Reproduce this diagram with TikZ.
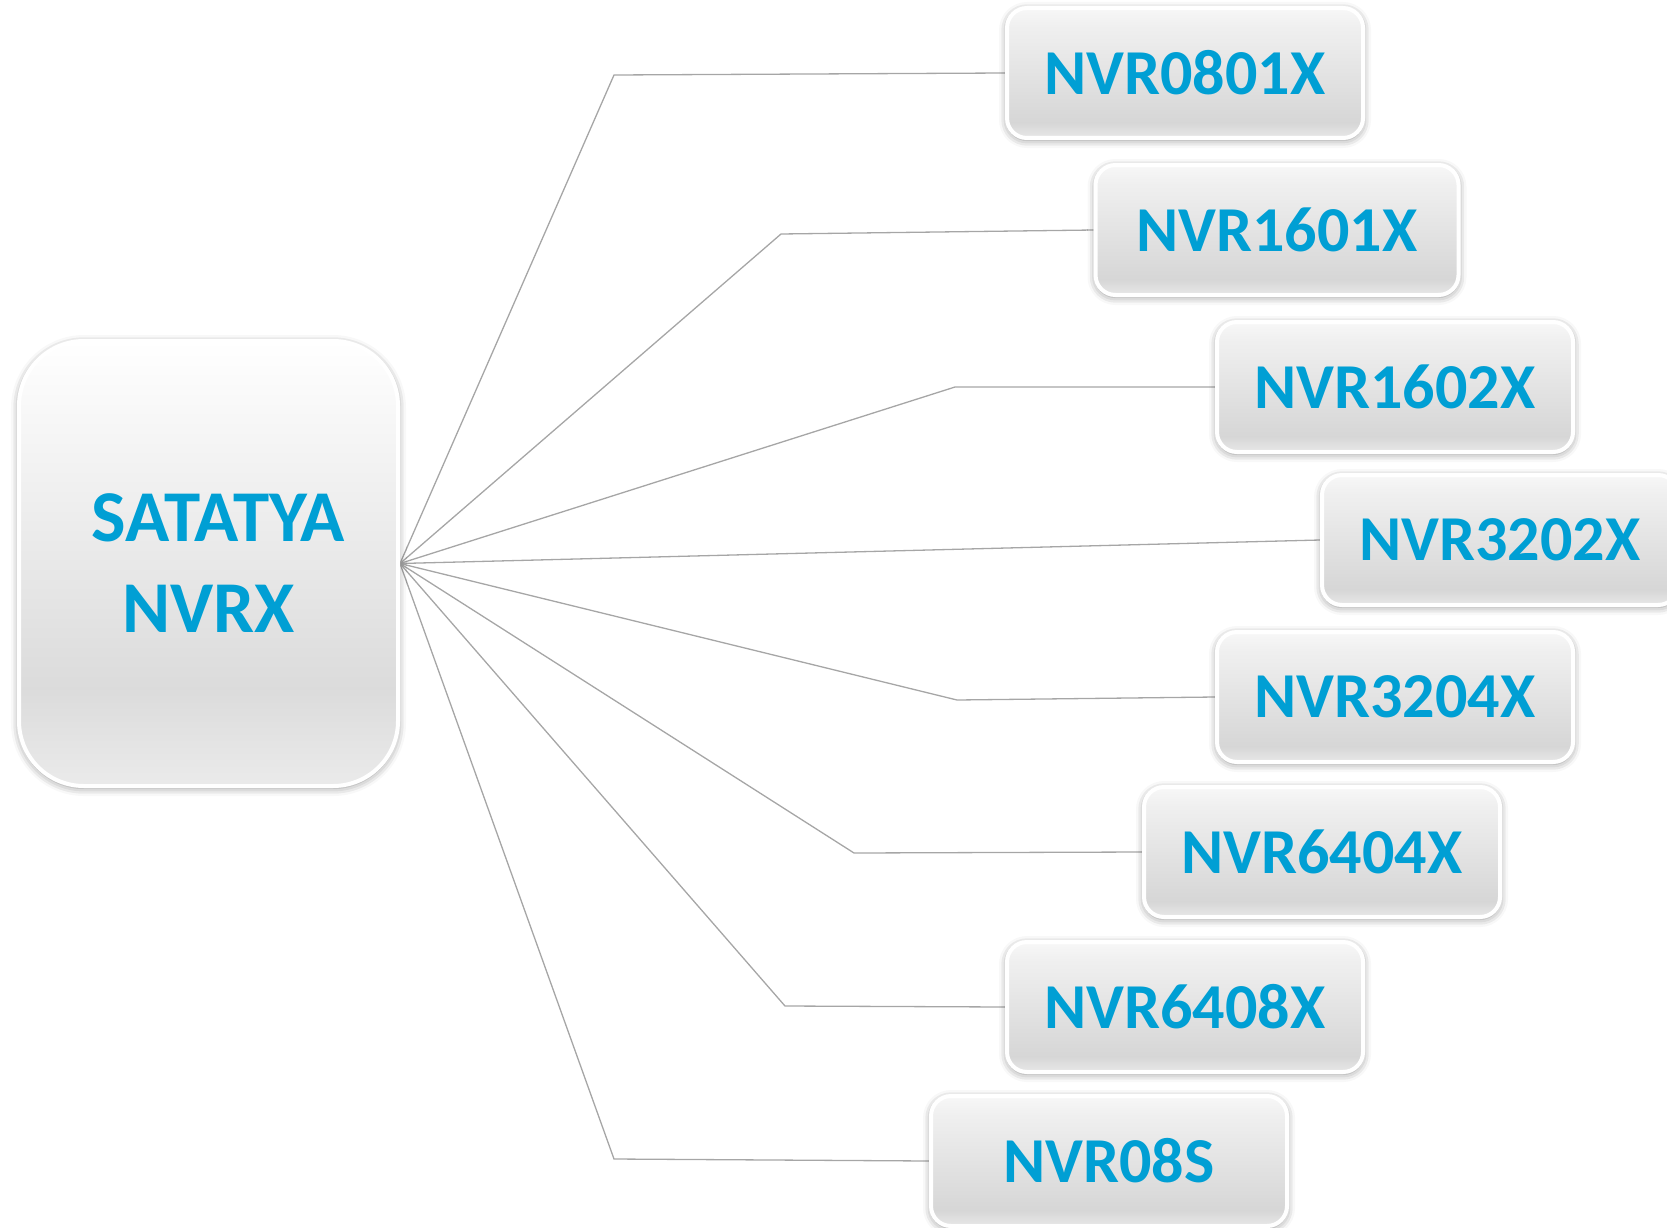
\documentclass[tikz,border=0pt]{standalone}
\usepackage{fontspec}
\setmainfont{Carlito}
\usetikzlibrary{shadows.blur,backgrounds}

\definecolor{nvrblue}{RGB}{0,159,212}
\pgfdeclareverticalshading{hubshade}{100bp}{color(0bp)=(black!8); color(25bp)=(black!8); color(36bp)=(black!14); color(75bp)=(white); color(100bp)=(white)}
\pgfdeclareverticalshading{boxshade}{100bp}{color(0bp)=(black!9); color(25bp)=(black!9); color(31bp)=(black!16); color(68bp)=(black!6); color(75bp)=(black!3); color(100bp)=(black!3)}

\tikzset{hubbox/.style={rounded corners=65pt,draw=white,line width=4pt,shading=hubshade,
    blur shadow={shadow xshift=0pt,shadow yshift=-2pt,shadow blur radius=8pt,shadow opacity=45},
    minimum width=379pt,minimum height=445pt,text=nvrblue,align=center,
    font=\fontsize{73}{91}\selectfont\bfseries}}
\tikzset{nvrbox/.style={rounded corners=20pt,draw=white,line width=4pt,shading=boxshade,
    blur shadow={shadow xshift=0pt,shadow yshift=-2pt,shadow blur radius=8pt,shadow opacity=45},
    minimum width=356pt,minimum height=130pt,text=nvrblue,
    font=\fontsize{64}{70}\selectfont\bfseries}}
\tikzset{link/.style={black!35,line width=1.3pt}}

\begin{document}
\begin{tikzpicture}[x=1pt,y=-1pt]
        \useasboundingbox (0,0) rectangle (1667,1228);
        % the product family
        \node[hubbox] (main) at (208.5,563.5) {\hspace*{20pt}SATATYA\\NVRX};
        % the models
        \node[nvrbox] (n1) at (1185,73) {NVR0801X};
        \node[nvrbox,minimum width=363pt] (n2) at (1277,230) {NVR1601X};
        \node[nvrbox] (n3) at (1395,387) {NVR1602X};
        \node[nvrbox] (n4) at (1500,540) {NVR3202X};
        \node[nvrbox] (n5) at (1395,697) {NVR3204X};
        \node[nvrbox] (n6) at (1322,852) {NVR6404X};
        \node[nvrbox] (n7) at (1185,1007) {NVR6408X};
        \node[nvrbox] (n8) at (1109,1161) {NVR08S};
        % elbows of the links
        \coordinate (e1) at (614,75);
        \coordinate (e2) at (781,234);
        \coordinate (e3) at (955,387);
        \coordinate (e5) at (957,700);
        \coordinate (e6) at (854,853);
        \coordinate (e7) at (785,1006);
        \coordinate (e8) at (614,1159);
        % draw the links
        \begin{scope}[on background layer]
            \draw[link] (main.east) -- (e1) -- (n1.west);
            \draw[link] (main.east) -- (e2) -- (n2.west);
            \draw[link] (main.east) -- (e3) -- (n3.west);
            \draw[link] (main.east) -- (n4.west);
            \draw[link] (main.east) -- (e5) -- (n5.west);
            \draw[link] (main.east) -- (e6) -- (n6.west);
            \draw[link] (main.east) -- (e7) -- (n7.west);
            \draw[link] (main.east) -- (e8) -- (n8.west);
        \end{scope}
    \end{tikzpicture}
\end{document}
